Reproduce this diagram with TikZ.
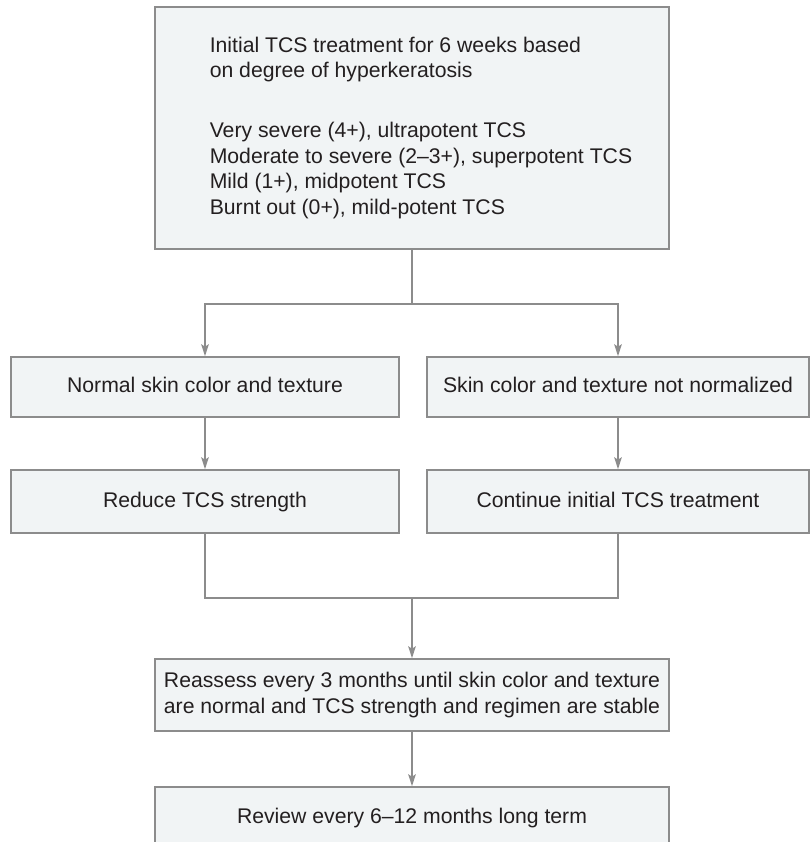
\documentclass[tikz,border=0pt]{standalone}
\usepackage{fontspec}
\setmainfont{Liberation Sans}
\usepackage{xcolor}
\usepackage{tikz}
\usetikzlibrary{arrows.meta, positioning}

\definecolor{boxfill}{HTML}{F1F4F5}
\definecolor{boxline}{HTML}{8C8C8C}
\definecolor{boxtext}{HTML}{231F20}

\tikzset{
  stepbox/.style={draw=boxline, fill=boxfill, line width=0.8pt, text=boxtext,
    inner sep=0pt, font=\fontsize{10.6pt}{12.75pt}\selectfont},
  onerow/.style={stepbox, text height=7.7pt, text depth=2.2pt},
  link/.style={draw=boxline, line width=0.8pt},
  arrow/.style={link, -{Stealth[length=6pt, width=3.8pt, inset=1.3pt]}}
}

\begin{document}
\begin{tikzpicture}[x=0.5pt, y=-0.5pt]
\useasboundingbox (0,0) rectangle (810,842);

% Initial treatment
\node[stepbox, minimum width=257pt, minimum height=121pt] (initial) at (412,128) {%
\hspace*{9pt}\raisebox{1.2pt}{\begin{tabular}{@{}l@{}}
Initial TCS treatment for 6 weeks based\\
on degree of hyperkeratosis\\[17.25pt]
Very severe (4+), ultrapotent TCS\\
Moderate to severe (2--3+), superpotent TCS\\
Mild (1+), midpotent TCS\\
Burnt out (0+), mild-potent TCS
\end{tabular}}};

% Response after 6 weeks
\node[onerow, minimum width=194pt, minimum height=30pt] (normal) at (205,387) {Normal skin color and texture};
\node[onerow, minimum width=191pt, minimum height=30pt] (notnormal) at (618,387) {Skin color and texture not normalized};

% Next step
\node[onerow, minimum width=194pt, minimum height=31.5pt] (reduce) at (205,501.5) {Reduce TCS strength};
\node[onerow, minimum width=191pt, minimum height=31.5pt] (continue) at (618,501.5) {Continue initial TCS treatment};

% Follow up
\node[stepbox, minimum width=257pt, minimum height=36pt, align=center] (reassess) at (412,695) {%
Reassess every 3 months until skin color and texture\\
are normal and TCS strength and regimen are stable};
\node[onerow, minimum width=257pt, minimum height=31pt] (review) at (412,818) {Review every 6--12 months long term};

% Connectors
\coordinate (split) at (412,304);
\coordinate (merge) at (412,598);
\draw[link] (initial) -- (split);
\draw[arrow] (split) -| (normal);
\draw[arrow] (split) -| (notnormal);
\draw[arrow] (normal) -- (reduce);
\draw[arrow] (notnormal) -- (continue);
\draw[link] (reduce) |- (merge);
\draw[link] (continue) |- (merge);
\draw[arrow] (merge) -- (reassess);
\draw[arrow] (reassess) -- (review);
\end{tikzpicture}
\end{document}
